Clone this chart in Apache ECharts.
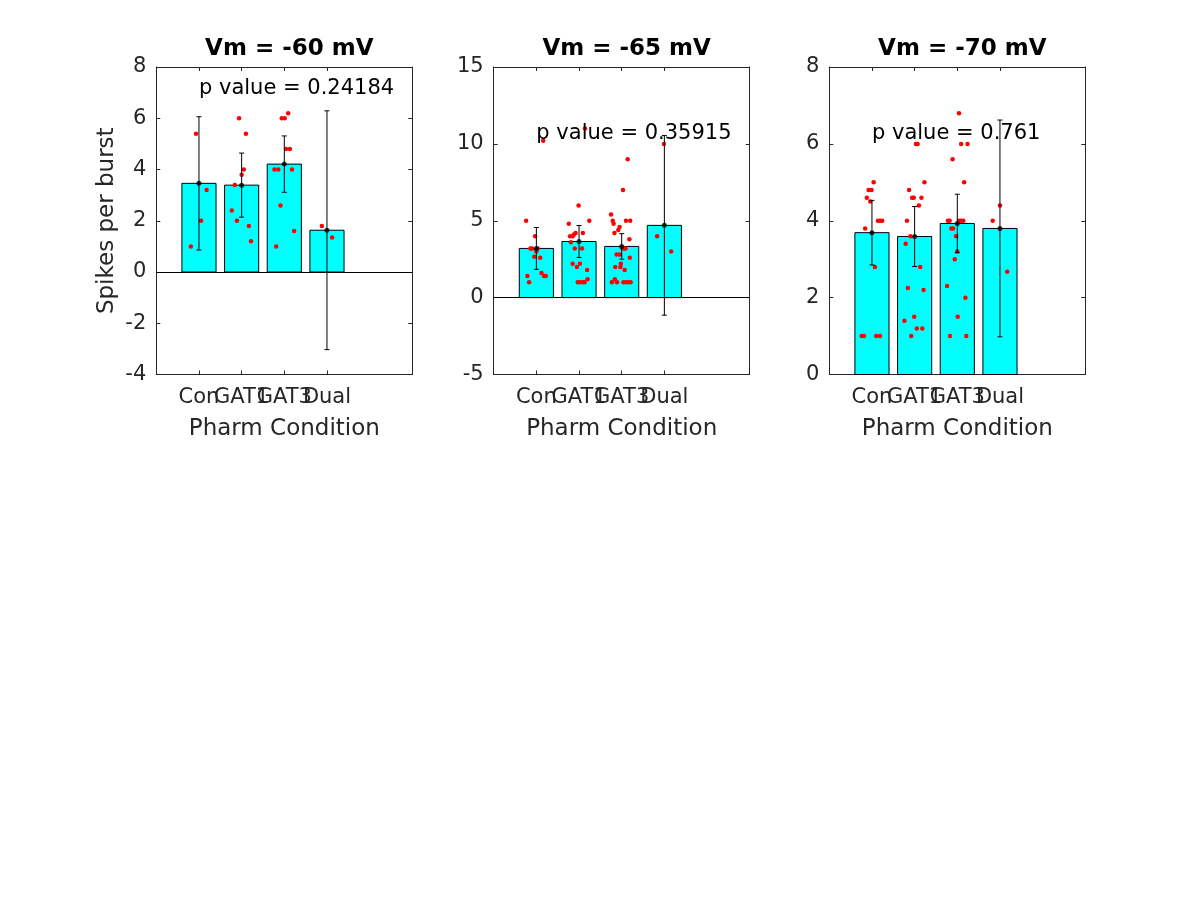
<!DOCTYPE html>
<html>
<head>
<meta charset="utf-8">
<script src="https://cdn.jsdelivr.net/npm/echarts@6/dist/echarts.min.js"></script>
<style>html,body{margin:0;padding:0;background:#fff;}#chart{width:1200px;height:900px;}</style>
</head>
<body>
<div id="chart"></div>
<script>
// ---------- data ----------
const categories = ['Con', 'GAT1', 'GAT3', 'Dual'];
const categoryX = [1, 2, 3, 4];
const panelTitles = ['Vm = -60 mV', 'Vm = -65 mV', 'Vm = -70 mV'];
const pValueTexts = ['p value = 0.24184', 'p value = 0.35915', 'p value = 0.761'];
const pTextPos = [[1, 7.15], [1, 10.68], [1, 6.28]];
const yMins = [-4, -5, 0];
const yMaxs = [8, 15, 8];
const yIntervals = [2, 5, 2];
const xLabel = 'Pharm Condition';
const yLabel = 'Spikes per burst';

const means60 = [3.46, 3.39, 4.21, 1.63];
const sem60 = [2.6, 1.25, 1.1, 4.66];
const means65 = [3.2, 3.65, 3.33, 4.7];
const sem65 = [1.36, 1.04, 0.83, 5.84];
const means70 = [3.69, 3.59, 3.93, 3.8];
const sem70 = [0.84, 0.78, 0.76, 2.82];

const dots60 = [
  [0.93, 5.4], [1.18, 3.2], [1.05, 2.0], [0.81, 1.0],
  [1.94, 6.0], [2.10, 5.4], [2.05, 4.0], [2.0, 3.8], [1.84, 3.4], [1.77, 2.4], [1.89, 2.0], [2.17, 1.8], [2.22, 1.2],
  [3.09, 6.2], [2.94, 6.0], [3.01, 6.0], [3.04, 4.8], [3.13, 4.8], [2.77, 4.0], [2.86, 4.0], [3.18, 4.0], [2.91, 2.6], [3.23, 1.6], [2.81, 1.0],
  [3.88, 1.8], [4.12, 1.35]
];
const dots65 = [
  [1.16, 10.2], [0.76, 5.0], [0.97, 4.0], [0.86, 3.2], [0.9, 3.2], [1.03, 3.2], [1.0, 3.0], [0.95, 2.66], [1.09, 2.6], [1.12, 1.6], [1.22, 1.4], [1.18, 1.4], [0.79, 1.4], [0.83, 1.0],
  [2.14, 11.0], [1.99, 6.0], [1.76, 4.8], [2.24, 5.0], [1.92, 4.2], [2.09, 4.2], [1.88, 4.1], [1.85, 4.0], [1.79, 4.0], [1.81, 3.6], [1.9, 3.2], [2.07, 3.2], [1.85, 2.2], [2.02, 2.2], [1.95, 2.0], [2.19, 1.8], [1.97, 1.0], [2.02, 1.0], [2.08, 1.0], [2.13, 1.0], [2.2, 1.2],
  [3.14, 9.0], [3.03, 7.0], [2.75, 5.4], [2.79, 5.0], [3.1, 5.0], [3.2, 5.0], [2.81, 4.8], [2.95, 4.6], [2.92, 4.4], [2.83, 4.2], [3.18, 3.8], [3.02, 3.2], [3.07, 3.2], [3.09, 3.2], [2.88, 2.8], [2.95, 2.8], [3.19, 2.6], [2.98, 2.2], [2.85, 2.0], [2.97, 2.0], [3.07, 1.8], [2.84, 1.2], [2.77, 1.0], [2.89, 1.0], [3.04, 1.0], [3.1, 1.0], [3.16, 1.0], [3.21, 1.0],
  [3.99, 10.0], [3.83, 4.0], [4.16, 3.0]
];
const dots70 = [
  [1.04, 5.0], [0.92, 4.8], [0.99, 4.8], [0.88, 4.6], [0.96, 4.5], [1.14, 4.0], [1.19, 4.0], [1.24, 4.0], [0.84, 3.8], [1.07, 2.8], [0.76, 1.0], [0.81, 1.0], [1.1, 1.0], [1.19, 1.0],
  [2.03, 6.0], [2.07, 6.0], [2.23, 5.0], [1.87, 4.8], [1.94, 4.6], [1.98, 4.6], [2.16, 4.6], [2.1, 4.4], [1.82, 4.0], [1.9, 3.6], [1.79, 3.4], [2.13, 2.8], [1.84, 2.25], [2.21, 2.2], [1.99, 1.5], [1.76, 1.4], [2.05, 1.2], [2.18, 1.2], [1.92, 1.0],
  [3.04, 6.8], [3.09, 6.0], [3.24, 6.0], [2.89, 5.6], [3.16, 5.0], [2.78, 4.0], [2.82, 4.0], [3.04, 4.0], [3.09, 4.0], [3.14, 4.0], [2.86, 3.8], [2.9, 3.8], [2.97, 3.6], [3.0, 3.2], [2.94, 3.0], [2.76, 2.3], [3.19, 2.0], [3.01, 1.5], [2.83, 1.0], [3.21, 1.0],
  [4.0, 4.4], [3.83, 4.0], [4.17, 2.67]
];

const panelMeans = [means60, means65, means70];
const panelSems = [sem60, sem65, sem70];
const panelDots = [dots60, dots65, dots70];

// ---------- layout / style ----------
const gridLefts = [156.3, 493.7, 829.3];
const gridWidth = 256;
const gridTop = 67;
const gridHeight = 307.5;
const axisColor = '#262626';
const FONT = 'DejaVu Sans';
const barHalf = 0.4;

const chart = echarts.init(document.getElementById('chart'), null, {renderer: 'canvas'});

const grids = [], xAxes = [], yAxes = [], series = [], titles = [];

for (let p = 0; p < 3; p++) {
  grids.push({left: gridLefts[p], top: gridTop, width: gridWidth, height: gridHeight, containLabel: false});
  titles.push({
    text: panelTitles[p],
    left: gridLefts[p] + gridWidth / 2,
    top: 33,
    textAlign: 'center',
    textStyle: {fontFamily: FONT, fontSize: 23, fontWeight: 'bold', color: '#000'}
  });
  const xi = xAxes.length;
  xAxes.push({
    type: 'value', gridIndex: p, min: 0, max: 6, position: 'bottom',
    name: xLabel, nameLocation: 'middle', nameGap: 43,
    nameTextStyle: {fontFamily: FONT, fontSize: 23, color: axisColor},
    axisLine: {show: true, onZero: false, lineStyle: {color: axisColor, width: 1}},
    axisTick: {show: true, inside: true, length: 4, customValues: categoryX, lineStyle: {color: axisColor}},
    axisLabel: {show: false},
    splitLine: {show: false}
  });
  xAxes.push({
    type: 'value', gridIndex: p, min: 0, max: 6, position: 'top',
    axisLine: {show: true, onZero: false, lineStyle: {color: axisColor, width: 1}},
    axisTick: {show: true, inside: true, length: 4, customValues: categoryX, lineStyle: {color: axisColor}},
    axisLabel: {show: false}, splitLine: {show: false}
  });
  const yi = yAxes.length;
  yAxes.push({
    type: 'value', gridIndex: p, min: yMins[p], max: yMaxs[p], interval: yIntervals[p], position: 'left',
    name: p === 0 ? yLabel : '', nameLocation: 'middle', nameGap: 38, nameRotate: 90,
    nameTextStyle: {fontFamily: FONT, fontSize: 23, color: axisColor},
    axisLine: {show: true, onZero: false, lineStyle: {color: axisColor, width: 1}},
    axisTick: {show: true, inside: true, length: 4, lineStyle: {color: axisColor}},
    axisLabel: {show: true, margin: 10, fontFamily: FONT, fontSize: 21, color: axisColor},
    splitLine: {show: false}
  });
  yAxes.push({
    type: 'value', gridIndex: p, min: yMins[p], max: yMaxs[p], interval: yIntervals[p], position: 'right',
    axisLine: {show: true, onZero: false, lineStyle: {color: axisColor, width: 1}},
    axisTick: {show: true, inside: true, length: 4, lineStyle: {color: axisColor}},
    axisLabel: {show: false}, splitLine: {show: false}
  });

  const means = panelMeans[p], sems = panelSems[p];
  const barData = categoryX.map((x, i) => [x, means[i]]);
  const errData = categoryX.map((x, i) => [x, means[i], sems[i]]);
  const catLabelData = categoryX.map((x, i) => [x, yMins[p], i]);

  // bars
  series.push({
    type: 'custom', xAxisIndex: xi, yAxisIndex: yi, data: barData, encode: {x: 0, y: 1}, z: 2,
    renderItem: (params, api) => {
      const x = api.value(0), y = api.value(1);
      const a = api.coord([x - barHalf, y]);
      const b = api.coord([x + barHalf, 0]);
      return {type: 'rect', shape: {x: a[0], y: Math.min(a[1], b[1]), width: b[0] - a[0], height: Math.abs(b[1] - a[1])},
        style: {fill: '#00FFFF', stroke: '#000', lineWidth: 1}};
    },
    markLine: yMins[p] < 0 ? {
      silent: true, symbol: ['none', 'none'], label: {show: false},
      lineStyle: {color: '#000', width: 1, type: 'solid'},
      data: [{yAxis: 0}]
    } : undefined
  });
  // individual points
  series.push({
    type: 'scatter', xAxisIndex: xi, yAxisIndex: yi, data: panelDots[p], symbolSize: 4.5, z: 3,
    itemStyle: {color: '#FF0000', opacity: 1}
  });
  // error bars
  series.push({
    type: 'custom', xAxisIndex: xi, yAxisIndex: yi, data: errData, encode: {x: 0, y: [1, 2]}, z: 4,
    renderItem: (params, api) => {
      const x = api.value(0), m = api.value(1), s = api.value(2);
      const t = api.coord([x, m + s]);
      const b = api.coord([x, m - s]);
      const c = 2.5;
      const st = {stroke: '#000', lineWidth: 1};
      return {type: 'group', children: [
        {type: 'line', shape: {x1: t[0], y1: t[1], x2: b[0], y2: b[1]}, style: st},
        {type: 'line', shape: {x1: t[0] - c, y1: t[1], x2: t[0] + c, y2: t[1]}, style: st},
        {type: 'line', shape: {x1: b[0] - c, y1: b[1], x2: b[0] + c, y2: b[1]}, style: st}
      ]};
    }
  });
  // mean markers
  series.push({
    type: 'scatter', xAxisIndex: xi, yAxisIndex: yi, data: barData, symbolSize: 5, z: 5,
    itemStyle: {color: '#000'}
  });
  // p value text
  series.push({
    type: 'custom', xAxisIndex: xi, yAxisIndex: yi, data: [pTextPos[p]], encode: {x: 0, y: 1}, z: 6,
    renderItem: ((txt) => (params, api) => {
      const pt = api.coord([api.value(0), api.value(1)]);
      return {type: 'text', x: pt[0], y: pt[1],
        style: {text: txt, fill: '#000', font: '21px "DejaVu Sans"', textAlign: 'left', textVerticalAlign: 'middle'}};
    })(pValueTexts[p])
  });
  // category tick labels (overlapping, as in the original)
  series.push({
    type: 'custom', xAxisIndex: xi, yAxisIndex: yi, data: catLabelData, encode: {x: 0, y: 1}, z: 6, clip: false,
    renderItem: (params, api) => {
      const pt = api.coord([api.value(0), api.value(1)]);
      return {type: 'text', x: pt[0], y: pt[1] + 13,
        style: {text: categories[api.value(2)], fill: axisColor, font: '21px "DejaVu Sans"', textAlign: 'center', textVerticalAlign: 'top'}};
    }
  });
}

chart.setOption({
  animation: false,
  backgroundColor: '#fff',
  title: titles,
  grid: grids,
  xAxis: xAxes,
  yAxis: yAxes,
  series: series
});
</script>
</body>
</html>
